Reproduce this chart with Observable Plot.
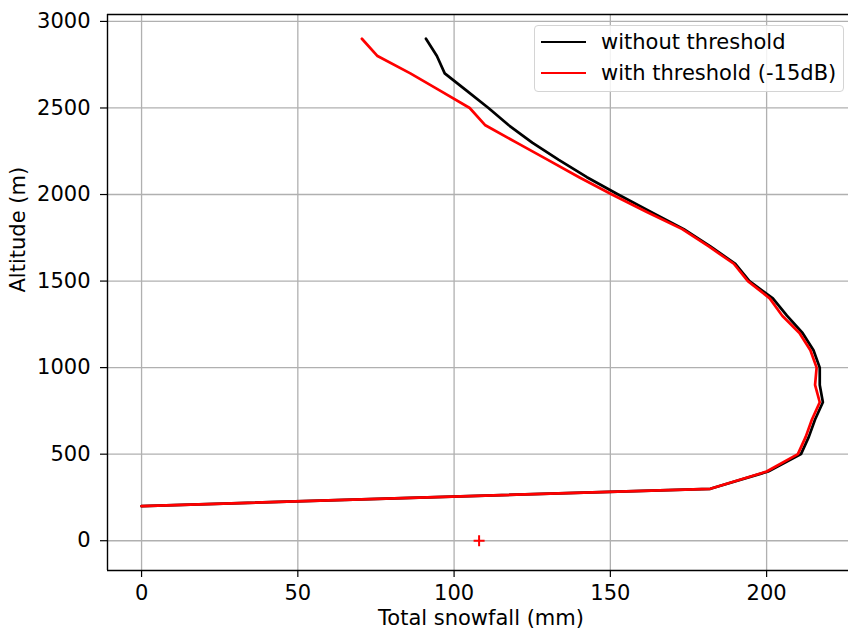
<!DOCTYPE html>
<html>
<head>
<meta charset="utf-8">
<script src="https://cdn.jsdelivr.net/npm/d3@7"></script>
<script src="https://cdn.jsdelivr.net/npm/@observablehq/plot@0.6"></script>
<style>
  html, body { margin: 0; padding: 0; background: #fff; }
  #wrap { position: relative; width: 848px; height: 633px; font-family: "DejaVu Sans", sans-serif; }
  #legend { position: absolute; left: 534px; top: 25px; width: 310px; height: 67px; box-sizing: border-box;
    border: 1px solid #d4d4d4; border-radius: 4px; background: rgba(255,255,255,0.85); font-size: 21px; color: #000; }
  .item { position: absolute; left: 0; height: 24px; }
  .swatch { position: absolute; left: 6px; width: 45px; height: 0; border-top: 2.7px solid; }
  .lab { position: absolute; left: 66px; white-space: nowrap; line-height: 24px; }
</style>
</head>
<body>
<div id="wrap"></div>
<script>
// Altitude levels (m)
const altitudes = [200,300,400,500,600,700,800,900,1000,1100,1200,1300,1400,1500,1600,1700,1800,1900,2000,2100,2200,2300,2400,2500,2600,2700,2800,2900];
// Total snowfall (mm) without threshold
const withoutThreshold = [0,182,200.5,211,213.5,215.5,218,217,217,215,211.5,206.5,202,194.5,190,182,173.5,163,152.5,142.5,133.5,125,117.5,111,104,97,94.5,91];
// Total snowfall (mm) with threshold (-15dB)
const withThreshold = [0,182,200,210,212.5,214.5,217,215.5,216,214,210.5,205,201,194,189.5,181.5,173,161.5,150.5,140,130,120,110,105,95.5,86,75.5,70.5];
// Single observation marker
const obsX = [108];
const obsY = [0];

const seriesNames = ["without threshold", "with threshold (-15dB)"];
const seriesColors = ["#000000", "#ff0000"];

const xTicks = [0, 50, 100, 150, 200];
const yTicks = [0, 500, 1000, 1500, 2000, 2500, 3000];
const xDomain = [-10.9, 226.2];
const yDomain = [-172, 3040];

const rows = [];
altitudes.forEach((a, i) => rows.push({alt: a, snow: withoutThreshold[i], s: seriesNames[0]}));
altitudes.forEach((a, i) => rows.push({alt: a, snow: withThreshold[i], s: seriesNames[1]}));
const obs = obsX.map((x, i) => ({x, y: obsY[i]}));

const plusSymbol = {
  draw(context, size) {
    const r = Math.sqrt(size / Math.PI);
    context.moveTo(-r, 0); context.lineTo(r, 0);
    context.moveTo(0, -r); context.lineTo(0, r);
  }
};

const fontSize = 21;
const chart = Plot.plot({
  width: 848,
  height: 633,
  marginLeft: 107,
  marginRight: 0,
  marginTop: 14,
  marginBottom: 63,
  style: {fontFamily: "DejaVu Sans, sans-serif", fontSize: fontSize + "px", color: "#000", background: "#fff", overflow: "visible"},
  x: {domain: xDomain},
  y: {domain: yDomain},
  color: {domain: seriesNames, range: seriesColors},
  marks: [
    Plot.gridX(xTicks, {stroke: "#b0b0b0", strokeOpacity: 1, strokeWidth: 1.3}),
    Plot.gridY(yTicks, {stroke: "#b0b0b0", strokeOpacity: 1, strokeWidth: 1.3}),
    Plot.axisX(xTicks, {tickSize: 7, tickPadding: 8, tickFormat: d => String(d), label: null, fontSize, strokeWidth: 1.2}),
    Plot.axisY(yTicks, {tickSize: 7, tickPadding: 10, tickFormat: d => String(d), label: null, fontSize, strokeWidth: 1.2}),
    Plot.line(rows, {x: "snow", y: "alt", stroke: "s", z: "s", strokeWidth: 2.7, strokeLinejoin: "round"}),
    Plot.dot(obs, {x: "x", y: "y", symbol: plusSymbol, r: 5.5, stroke: "#ff0000", strokeWidth: 2, fill: "none"}),
    Plot.ruleX([xDomain[0]], {stroke: "#000", strokeWidth: 1.4}),
    Plot.ruleY([yDomain[0], yDomain[1]], {stroke: "#000", strokeWidth: 1.4}),
    Plot.text(["Total snowfall (mm)"], {frameAnchor: "bottom", dy: 54, dx: 3, fontSize, fill: "#000"}),
    Plot.text(["Altitude (m)"], {frameAnchor: "left", dx: -89, rotate: -90, fontSize, fill: "#000"})
  ]
});

const wrap = document.getElementById("wrap");
wrap.appendChild(chart);

const legend = document.createElement("div");
legend.id = "legend";
seriesNames.forEach((name, i) => {
  const item = document.createElement("div");
  item.className = "item";
  item.style.top = (4 + i * 31) + "px";
  const sw = document.createElement("div");
  sw.className = "swatch";
  sw.style.top = "11px";
  sw.style.borderTopColor = seriesColors[i];
  const lab = document.createElement("div");
  lab.className = "lab";
  lab.textContent = name;
  item.appendChild(sw);
  item.appendChild(lab);
  legend.appendChild(item);
});
wrap.appendChild(legend);
</script>
</body>
</html>
